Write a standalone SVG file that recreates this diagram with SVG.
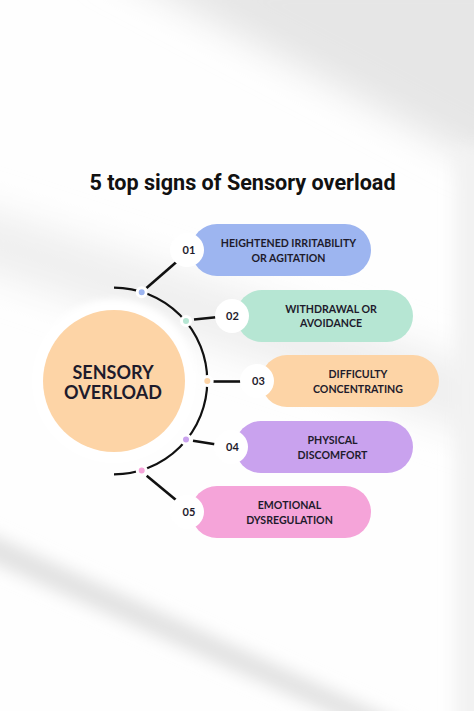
<svg xmlns="http://www.w3.org/2000/svg" width="474" height="711" viewBox="0 0 474 711">
<defs>
<filter id="blur20" x="-50%" y="-50%" width="200%" height="200%"><feGaussianBlur stdDeviation="18"/></filter>
<filter id="blur10" x="-50%" y="-50%" width="200%" height="200%"><feGaussianBlur stdDeviation="8"/></filter>
<filter id="blur4" x="-50%" y="-50%" width="200%" height="200%"><feGaussianBlur stdDeviation="3"/></filter>
</defs>
<style>
.title{font-family:Roboto,"Liberation Sans",sans-serif;font-weight:700;font-size:21.6px;fill:#111}
.lbl{font-family:Lato,"Liberation Sans",sans-serif;font-weight:700;font-size:10.6px;fill:#1e1b2c;text-anchor:middle}
.num{font-family:Lato,"Liberation Sans",sans-serif;font-weight:700;font-size:11px;fill:#1e1b2c;text-anchor:middle}
.ctr{font-family:Lato,"Liberation Sans",sans-serif;font-weight:700;font-size:18px;fill:#1e1b2c;text-anchor:middle}
.disc{fill:#fff}
.arc{fill:none;stroke:#111;stroke-width:2.2}
.con{fill:none;stroke:#111;stroke-width:2.6}
.dot{stroke:#fff;stroke-width:3}
</style>
<g id="background">
<rect width="474" height="711" fill="#fefefe"/>
<polygon points="95,-40 520,-40 520,170 474,160" fill="#e6e6e6" filter="url(#blur20)"/>
<polygon points="-40,200 -40,262 520,450 520,380" fill="#efefef" filter="url(#blur20)"/>
<polygon points="-40,520 -40,548 390,740 440,740" fill="#e2e2e2" filter="url(#blur10)"/>
<rect x="455" y="150" width="60" height="600" fill="#f2f2f2" filter="url(#blur10)"/>
</g>
<g id="title">
<text class="title" x="242.5" y="190" text-anchor="middle">5 top signs of Sensory overload</text>
</g>
<g id="center-node">
<circle cx="114" cy="381" r="82" fill="#ffffff" filter="url(#blur4)"/>
<circle cx="114" cy="381" r="71" fill="#fdd4a6"/>
<text class="ctr" x="113" y="378.5">SENSORY</text>
<text class="ctr" x="113" y="398.5">OVERLOAD</text>
</g>
<g id="connectors">
<path class="arc" d="M114,287.7 A93.3,93.3 0 0 1 114,474.3"/>
<line class="con" x1="146.5" y1="288" x2="176.7" y2="261.7"/>
<line class="con" x1="194" y1="319.5" x2="216" y2="317.3"/>
<line class="con" x1="213.5" y1="381.5" x2="242.7" y2="381.5"/>
<line class="con" x1="193" y1="440.7" x2="215" y2="444.3"/>
<line class="con" x1="146.7" y1="475.7" x2="176" y2="500"/>
<circle class="dot" cx="141.7" cy="292.3" r="4.5" fill="#9db5f0"/>
<circle class="dot" cx="186" cy="321" r="4.5" fill="#b6e6d3"/>
<circle class="dot" cx="207.3" cy="381" r="4.5" fill="#fdd4a6"/>
<circle class="dot" cx="186" cy="439.5" r="4.5" fill="#c9a2ee"/>
<circle class="dot" cx="141.7" cy="470.5" r="4.5" fill="#f5a4d9"/>
</g>
<g id="node-01">
<rect x="191" y="224" width="180" height="52" rx="26" fill="#9db5f0"/>
<circle class="disc" cx="187" cy="250" r="17"/>
<text class="num" x="189" y="254">01</text>
<text class="lbl" x="288.5" y="247">HEIGHTENED IRRITABILITY</text>
<text class="lbl" x="288.5" y="261.5">OR AGITATION</text>
</g>
<g id="node-02">
<rect x="236" y="290" width="177" height="52" rx="26" fill="#b6e6d3"/>
<circle class="disc" cx="232" cy="316" r="17"/>
<text class="num" x="232.5" y="320">02</text>
<text class="lbl" x="331" y="312.5">WITHDRAWAL OR</text>
<text class="lbl" x="331" y="327">AVOIDANCE</text>
</g>
<g id="node-03">
<rect x="261" y="355" width="178" height="52" rx="26" fill="#fdd4a6"/>
<circle class="disc" cx="257" cy="381" r="17"/>
<text class="num" x="258.5" y="385">03</text>
<text class="lbl" x="358" y="378">DIFFICULTY</text>
<text class="lbl" x="358" y="392.5">CONCENTRATING</text>
</g>
<g id="node-04">
<rect x="235" y="421" width="178" height="52" rx="26" fill="#c9a2ee"/>
<circle class="disc" cx="231" cy="447" r="17"/>
<text class="num" x="232.5" y="451">04</text>
<text class="lbl" x="332.5" y="444">PHYSICAL</text>
<text class="lbl" x="332.5" y="458.5">DISCOMFORT</text>
</g>
<g id="node-05">
<rect x="191" y="486" width="180" height="52" rx="26" fill="#f5a4d9"/>
<circle class="disc" cx="187" cy="512" r="17"/>
<text class="num" x="189" y="516">05</text>
<text class="lbl" x="289.5" y="509">EMOTIONAL</text>
<text class="lbl" x="289.5" y="523.5">DYSREGULATION</text>
</g>
</svg>
